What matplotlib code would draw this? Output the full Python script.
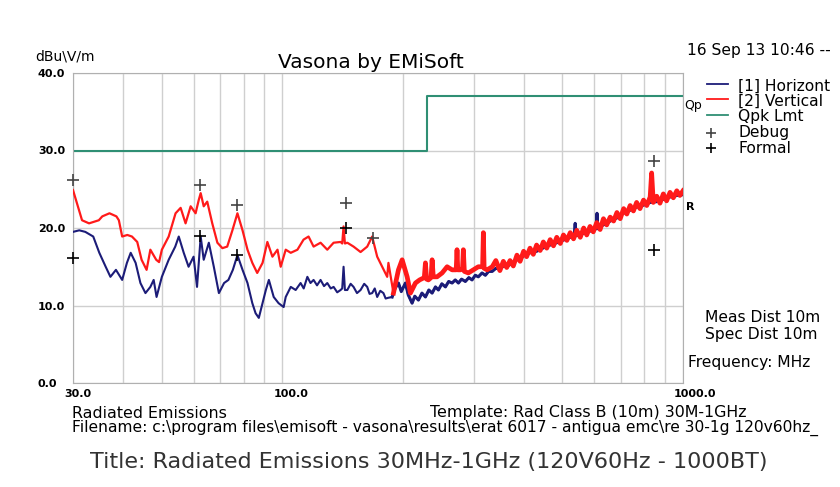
import matplotlib
matplotlib.use("Agg")
import matplotlib.pyplot as plt
import matplotlib.transforms as mtransforms
from matplotlib.lines import Line2D
from matplotlib.ticker import NullFormatter

# ---- data (MHz, dBuV/m) ----
horz_freq = [30.0, 31.1, 32.2, 33.7, 34.9, 36.2, 37.2, 38.4, 39.8, 40.9, 41.8, 43.0,
             44.2, 45.5, 46.8, 47.7, 48.5, 50.0, 52.0, 54.0, 55.1, 56.7, 58.3, 60.0,
             61.2, 62.5, 63.6, 65.5, 67.4, 69.4, 71.5, 73.3, 75.2, 77.2, 79.5, 81.8,
             84.1, 85.7, 87.3, 88.3, 90.9, 92.5, 95.1, 97.8, 100.7, 101.9, 104.9, 107.9,
             111.0, 113.0, 115.4, 117.5, 119.6, 122.0, 124.5, 127.0, 129.4, 132.0, 134.2,
             137.0, 139.7, 141.0, 142.1, 143.2, 145.2, 148.0, 150.5, 153.5, 156.7, 160.0,
             162.8, 165.0, 167.5, 170.0, 172.4, 175.5, 178.7, 181.0, 183.9, 187.9, 191.0,
             194.8, 198.0, 202.8, 206.0, 210.7, 214.0, 218.5, 223.0, 227.5, 232.0, 236.4,
             241.0, 245.1, 250.0, 255.2, 260.0, 265.2, 270.0, 275.0, 280.0, 286.2, 292.0,
             297.4, 303.0, 308.3, 315.0, 321.1, 327.0, 334, 341, 349, 356, 363, 370, 385,
             392, 400, 415, 431, 440, 457, 466, 484, 494, 513, 523, 535, 538, 541, 554,
             575, 586, 600, 607, 610, 613, 621, 645, 658, 684, 697, 724, 738, 764, 767,
             770, 781, 812, 828, 860, 876, 910, 928, 965, 1000]
horz_db = [19.5, 19.7, 19.5, 18.9, 16.8, 15.0, 13.7, 14.6, 13.3, 15.5, 16.8, 15.5,
           12.9, 11.6, 12.4, 13.3, 11.1, 13.7, 15.9, 17.6, 18.9, 16.8, 15.0, 16.3,
           12.4, 18.9, 15.9, 18.1, 15.0, 11.6, 12.9, 13.3, 14.6, 16.5, 14.6, 12.9,
           10.3, 9.0, 8.4, 9.4, 12.0, 13.3, 11.1, 10.3, 9.8, 11.1, 12.4, 12.0,
           12.9, 12.2, 13.7, 12.9, 13.3, 12.6, 13.3, 12.5, 12.9, 12.2, 12.4,
           11.7, 12.0, 12.2, 15.0, 12.0, 12.0, 12.8, 12.4, 11.6, 12.0, 12.8,
           12.4, 11.5, 11.6, 12.2, 11.1, 11.9, 11.6, 10.9, 11.0, 11.1, 12.2,
           12.9, 11.8, 12.9, 11.4, 10.3, 11.2, 10.7, 11.6, 11.1, 12.0, 11.6,
           12.4, 12.0, 12.8, 12.4, 13.1, 12.9, 13.3, 12.9, 13.4, 13.1, 13.6,
           13.3, 13.9, 13.7, 14.2, 13.9, 14.4, 14.4, 14.8, 14.7, 15.1, 15.0, 15.3, 15.9,
           16.0, 16.4, 16.8, 17.0, 17.2, 17.7, 17.8, 18.1, 18.3, 18.6, 18.8, 19.0, 20.6, 19.0, 19.2,
           19.4, 19.6, 19.8, 19.9, 21.9, 19.9, 20.2, 20.6, 20.9, 21.3, 21.7, 22.1, 22.3, 22.7, 23.2,
           22.7, 22.8, 23.1, 23.3, 23.4, 23.6, 23.8, 24.0, 24.2, 24.3]

vert_freq = [30.0, 31.6, 32.9, 34.8, 35.5, 37.0, 38.5, 39.05, 39.8, 41.0, 42.1, 43.4,
             44.5, 45.8, 46.8, 48.4, 49.2, 50.0, 52.0, 54.1, 55.7, 57.3, 59.0, 60.7,
             61.8, 62.5, 63.6, 64.9, 66.8, 68.8, 70.8, 72.8, 75.0, 77.2, 79.5, 81.8,
             84.1, 86.5, 89.2, 91.7, 94.4, 97.2, 99.0, 101.9, 104.9, 109.0, 112.9, 116.2,
             119.6, 124.5, 129.4, 134.2, 139.7, 141.0, 142.1, 143.2, 145.2, 150.5, 156.7,
             162.8, 167.5, 172.4, 177.4, 182.6, 183.9, 189.3, 194.8, 199.0, 204.8, 208.7,
             214.8, 220.0, 226.0, 227.5, 229.0, 231.4, 235.0, 236.4, 238.0, 243.2, 250.4,
             257.7, 265.2, 271.5, 272.8, 274.0, 278.1, 281.5, 282.9, 284.5, 291.1, 299.6,
             308.3, 316.0, 317.4, 318.8, 324.2,
             334, 341, 349, 356, 363, 370, 377, 385, 392, 400, 407, 415, 423, 431, 440,
             448, 457, 466, 475, 484, 494, 503, 513, 523, 533, 543, 554, 565, 575, 586,
             597, 609, 621, 633, 645, 658, 671, 684, 697, 711, 724, 738, 752, 766, 781,
             797, 812, 828, 835, 843, 860, 876, 893, 910, 928, 946, 965, 982, 1000]
vert_db = [24.9, 21.0, 20.6, 21.0, 21.5, 21.9, 21.5, 21.0, 18.9, 19.1, 18.9, 18.2,
           15.9, 14.6, 17.2, 15.9, 15.6, 17.2, 18.9, 21.9, 22.6, 20.6, 22.8, 21.9,
           23.6, 24.5, 22.8, 23.4, 20.6, 18.1, 17.4, 17.6, 19.7, 21.9, 19.7, 17.2,
           15.5, 14.2, 15.5, 18.2, 16.3, 17.2, 15.0, 17.2, 16.8, 17.2, 18.5, 18.9,
           17.6, 18.1, 17.2, 18.1, 18.2, 18.0, 20.2, 18.0, 18.1, 17.6, 16.9,
           17.6, 18.9, 16.3, 15.0, 13.7, 15.5, 11.6, 14.6, 15.9, 13.7, 11.6,
           12.9, 13.3, 13.6, 15.5, 13.4, 13.3, 13.6, 15.9, 13.7, 13.7, 14.2,
           15.0, 14.6, 14.6, 17.2, 14.6, 14.6, 14.7, 17.2, 14.4, 14.2, 14.6,
           15.0, 15.0, 19.4, 14.8, 14.6,
           15.0, 15.8, 14.5, 15.7, 14.9, 15.8, 15.1, 16.5, 15.7, 17.0, 16.3, 17.4, 16.6, 17.8, 17.1,
           18.2, 17.4, 18.5, 17.7, 18.8, 18.0, 19.1, 18.4, 19.4, 18.6, 19.7, 18.8, 20.0, 19.1, 20.2,
           19.5, 20.7, 19.8, 21.2, 20.4, 21.4, 20.9, 22.0, 21.2, 22.5, 21.8, 22.9, 22.2, 23.3, 22.5,
           23.6, 22.9, 24.0, 27.1, 23.3, 24.1, 23.2, 24.4, 23.5, 24.6, 23.9, 24.8, 24.2, 24.8]

limit_freq = [30, 230, 230, 1000]
limit_db = [30, 30, 37, 37]

debug_freq = [30.0, 62.3, 76.9, 143.9, 168.3, 847]
debug_db = [26.2, 25.5, 23.0, 23.2, 18.7, 28.6]
formal_freq = [30.0, 62.3, 76.9, 143.9, 847]
formal_db = [16.1, 19.0, 16.5, 20.0, 17.2]

y_ticks = [0, 10, 20, 30, 40]
y_labels = ["0.0", "10.0", "20.0", "30.0", "40.0"]
x_ticks = [30, 100, 1000]
x_labels = ["30.0", "100.0", "1000.0"]
x_minor = [40, 50, 60, 70, 80, 90, 200, 300, 400, 500, 600, 700, 800, 900]

HORZ_C = "#1c1c78"
VERT_C = "#ff1a1a"
LIMIT_C = "#2f8f74"
GRID_C = "#cfcfcf"
FONT = "DejaVu Sans"
TXT = 11.2
FOOT = 11.4

W, H = 840, 487


def fx(px):
    return px / W


def fy(py):
    return 1 - py / H


def dense_part(freq, db, f0):
    # the swept part above f0 is drawn heavier, like the dense receiver sweep
    idx = [i for i, f in enumerate(freq) if f >= f0]
    return [freq[i] for i in idx], [db[i] for i in idx]


fig = plt.figure(figsize=(W / 100, H / 100), dpi=100)
ax = fig.add_axes([fx(73), fy(383), 610 / W, 310 / H])

ax.plot(horz_freq, horz_db, color=HORZ_C, lw=1.5, zorder=3)
hf, hd = dense_part(horz_freq, horz_db, 185)
ax.plot(hf, hd, color=HORZ_C, lw=2.2, zorder=3)
ax.plot(vert_freq, vert_db, color=VERT_C, lw=1.6, zorder=4)
vf, vd = dense_part(vert_freq, vert_db, 185)
ax.plot(vf, vd, color=VERT_C, lw=3.4, zorder=4)
ax.plot(limit_freq, limit_db, color=LIMIT_C, lw=1.5, zorder=2)
ax.plot(debug_freq, debug_db, "+", color="#444444", ms=8, mew=1.2, zorder=5, clip_on=False)
ax.plot(formal_freq, formal_db, "+", color="black", ms=8, mew=1.2, zorder=5, clip_on=False)

ax.set_xscale("log")
ax.set_xlim(30, 1000)
ax.set_ylim(0, 40)
ax.set_xticks(x_ticks, x_labels)
ax.set_xticks(x_minor, minor=True)
ax.xaxis.set_minor_formatter(NullFormatter())
ax.set_yticks(y_ticks, y_labels)
ax.grid(True, which="both", color=GRID_C, lw=1.0)
ax.set_axisbelow(True)
for s in ax.spines.values():
    s.set_color("#b0b0b0")
ax.tick_params(which="both", length=0)
ax.tick_params(axis="y", pad=25.2, labelsize=8)
ax.tick_params(axis="x", pad=4, labelsize=8)
for lab in ax.get_yticklabels():
    lab.set_ha("left")
    lab.set_family(FONT)
    lab.set_weight("bold")
off = mtransforms.ScaledTranslation(-9 / 100, 0, fig.dpi_scale_trans)
for lab in ax.get_xticklabels():
    lab.set_family(FONT)
    lab.set_weight("bold")
    lab.set_ha("left")
    lab.set_transform(lab.get_transform() + off)

# ---- header texts ----
fig.text(fx(35), fy(57), "dBu\\V/m", fontsize=10, family=FONT, va="center", ha="left")
fig.text(fx(371), fy(62), "Vasona by EMiSoft", fontsize=14.5, family=FONT, va="center", ha="center")
fig.text(fx(687), fy(51), "16 Sep 13 10:46 --", fontsize=TXT, family=FONT, va="center", ha="left")

# ---- legend drawn by hand (first label is truncated in the original too) ----
leg_items = [("[1] Horizont", HORZ_C, None, 86),
             ("[2] Vertical", VERT_C, None, 101),
             ("Qpk Lmt", LIMIT_C, None, 117),
             ("Debug", "#444444", "+", 133),
             ("Formal", "black", "+", 148)]
for label, col, mk, py in leg_items:
    if mk is None:
        fig.add_artist(Line2D([fx(707), fx(728)], [fy(py - 2), fy(py - 2)],
                              color=col, lw=1.3, transform=fig.transFigure))
    else:
        fig.add_artist(Line2D([fx(711)], [fy(py)], marker="+", ms=7, mew=1.2,
                              color=col, transform=fig.transFigure))
    fig.text(fx(738), fy(py), label, fontsize=TXT, family=FONT, va="center", ha="left")
fig.text(fx(684), fy(106), "Qp", fontsize=9, family=FONT, va="center", ha="left")
fig.text(fx(686), fy(207), "R", fontsize=8, family=FONT, weight="bold", va="center", ha="left")

# ---- right side info ----
fig.text(fx(705), fy(318), "Meas Dist 10m", fontsize=TXT, family=FONT, va="center", ha="left")
fig.text(fx(705), fy(334), "Spec Dist 10m", fontsize=TXT, family=FONT, va="center", ha="left")
fig.text(fx(688), fy(363), "Frequency: MHz", fontsize=TXT, family=FONT, va="center", ha="left")

# ---- footer ----
fig.text(fx(72), fy(413), "Radiated Emissions", fontsize=FOOT, family=FONT, va="center", ha="left")
fig.text(fx(430), fy(413), "Template: Rad Class B (10m) 30M-1GHz", fontsize=FOOT, family=FONT,
         va="center", ha="left")
fig.text(fx(72), fy(428),
         "Filename: c:\\program files\\emisoft - vasona\\results\\erat 6017 - antigua emc\\re 30-1g 120v60hz_",
         fontsize=11.2, family=FONT, va="center", ha="left")
fig.text(fx(429), fy(462), "Title: Radiated Emissions 30MHz-1GHz (120V60Hz - 1000BT)",
         fontsize=16, family="DejaVu Sans", color="#333333", va="center", ha="center")

fig.savefig("out.png", dpi=100)
